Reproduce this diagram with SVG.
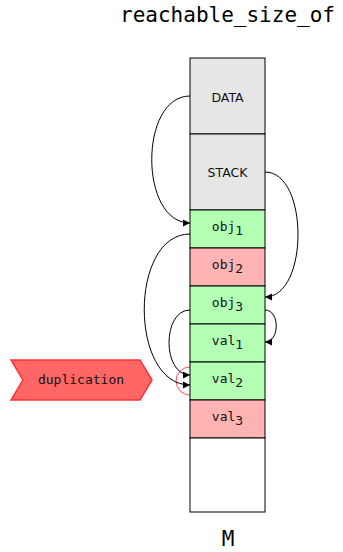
<svg xmlns="http://www.w3.org/2000/svg" width="343" height="552" viewBox="0 0 343 552">
<style>
.cell{stroke:#000;stroke-width:1}
.g{fill:#e6e6e6}.gr{fill:#b3ffb3}.r{fill:#ffb3b3}.w{fill:#fff}
.lbl{font-family:"DejaVu Sans",sans-serif;font-size:12.5px;fill:#111;text-anchor:middle}
.mono{font-family:"DejaVu Sans Mono",monospace;font-size:13px;fill:#111;text-anchor:middle}
.big{font-family:"DejaVu Sans Mono",monospace;font-size:21px;fill:#000;text-anchor:middle}
.conn{fill:none;stroke:#000;stroke-width:1}
</style>
<defs>
<marker id="ah" markerWidth="8" markerHeight="8" refX="7" refY="4" orient="auto" markerUnits="userSpaceOnUse">
<path d="M0,0.5 L7,4 L0,7.5 Z" fill="#000"/>
</marker>
</defs>
<text class="big" x="227.5" y="22">reachable_size_of</text>
<circle cx="190" cy="381" r="14" fill="none" stroke="#ff4d4d" stroke-width="1"/>
<g id="DATA"><rect class="cell g" x="190" y="58" width="75" height="76"/><text class="lbl" x="227.5" y="102">DATA</text></g>
<g id="STACK"><rect class="cell g" x="190" y="134" width="75" height="76"/><text class="lbl" x="227.5" y="177">STACK</text></g>
<g id="obj1"><rect class="cell gr" x="190" y="210" width="75" height="38"/><text class="mono" x="227.5" y="231">obj<tspan dy="4">1</tspan></text></g>
<g id="obj2"><rect class="cell r" x="190" y="248" width="75" height="38"/><text class="mono" x="227.5" y="269">obj<tspan dy="4">2</tspan></text></g>
<g id="obj3"><rect class="cell gr" x="190" y="286" width="75" height="38"/><text class="mono" x="227.5" y="307">obj<tspan dy="4">3</tspan></text></g>
<g id="val1"><rect class="cell gr" x="190" y="324" width="75" height="38"/><text class="mono" x="227.5" y="345">val<tspan dy="4">1</tspan></text></g>
<g id="val2"><rect class="cell gr" x="190" y="362" width="75" height="38"/><text class="mono" x="227.5" y="383">val<tspan dy="4">2</tspan></text></g>
<g id="val3"><rect class="cell r" x="190" y="400" width="75" height="38"/><text class="mono" x="227.5" y="421">val<tspan dy="4">3</tspan></text></g>
<g id="free"><rect class="cell w" x="190" y="438" width="75" height="74"/></g>
<g id="M"><text class="big" x="228" y="546">M</text></g>
<g id="duplication">
<polygon points="11,360 140,360 152,380 140,400 11,400 23,380" fill="#ff6666" stroke="#ff3333" stroke-width="1.5"/>
<text x="81" y="384" font-family="DejaVu Sans Mono, monospace" font-size="13" fill="#111" text-anchor="middle">duplication</text>
</g>
<g id="connectors">
<path class="conn" d="M190,96 C139,96 139,223 190,223" marker-end="url(#ah)"/>
<path class="conn" d="M265,172 C309,172 309,297 265,297" marker-end="url(#ah)"/>
<path class="conn" d="M190,234 C129,234 129,385 190,385" marker-end="url(#ah)"/>
<path class="conn" d="M190,310 C162,310 162,375 190,375" marker-end="url(#ah)"/>
<path class="conn" d="M265,310 C280,310 280,342 265,342" marker-end="url(#ah)"/>
</g>
</svg>
